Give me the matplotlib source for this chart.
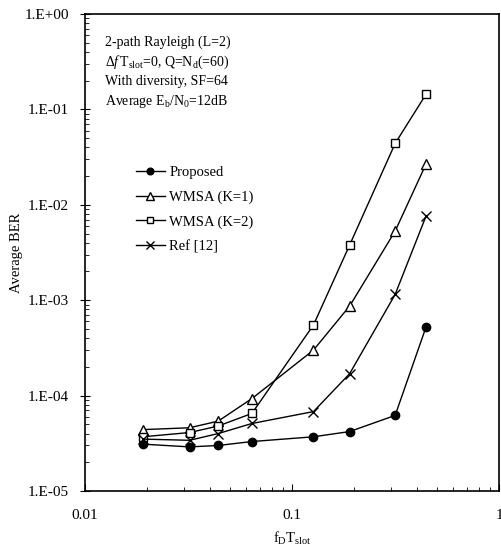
import matplotlib
matplotlib.use('Agg')
import matplotlib.pyplot as plt
from matplotlib.ticker import LogLocator, FuncFormatter, NullFormatter

plt.rcParams['font.family'] = ['Liberation Serif', 'DejaVu Serif']
plt.rcParams['mathtext.fontset'] = 'custom'
plt.rcParams['mathtext.rm'] = 'Liberation Serif'
plt.rcParams['mathtext.it'] = 'Liberation Serif:italic'

# fD*Tslot values
fd_t = [0.019, 0.032, 0.044, 0.064, 0.127, 0.19, 0.315, 0.445]

ber_proposed = [3.1e-5, 2.9e-5, 3.0e-5, 3.3e-5, 3.7e-5, 4.2e-5, 6.2e-5, 5.3e-4]
ber_wmsa_k1 = [4.4e-5, 4.6e-5, 5.4e-5, 9.3e-5, 3.0e-4, 8.7e-4, 5.3e-3, 2.7e-2]
ber_wmsa_k2 = [3.7e-5, 4.1e-5, 4.8e-5, 6.5e-5, 5.5e-4, 3.8e-3, 4.4e-2, 1.45e-1]
ber_ref12 = [3.5e-5, 3.4e-5, 4.0e-5, 5.1e-5, 6.8e-5, 1.7e-4, 1.15e-3, 7.7e-3]

labels = ['Proposed', 'WMSA (K=1)', 'WMSA (K=2)', 'Ref [12]']

fig = plt.figure(figsize=[5.02, 5.51], dpi=100)
ax = fig.add_axes([85/502, 1-491/551, 414/502, 477/551])

ax.plot(fd_t, ber_proposed, '-o', color='black', lw=1, ms=6, label=labels[0])
ax.plot(fd_t, ber_wmsa_k1, '-^', color='black', mfc='white', lw=1, ms=7, label=labels[1])
ax.plot(fd_t, ber_wmsa_k2, '-s', color='black', mfc='white', lw=1, ms=5.5, label=labels[2])
ax.plot(fd_t, ber_ref12, '-x', color='black', lw=1, ms=6.5, mew=1, label=labels[3])

ax.set_xscale('log')
ax.set_yscale('log')
ax.set_xlim(0.01, 1)
ax.set_ylim(1e-5, 1)

ax.xaxis.set_major_formatter(FuncFormatter(lambda v, p: '%g' % v))
ax.yaxis.set_major_formatter(FuncFormatter(lambda v, p: ('%.0E' % v).replace('1E', '1.E')))
ax.yaxis.set_major_locator(LogLocator(base=10, numticks=10))
ax.yaxis.set_minor_locator(LogLocator(base=10, subs=range(2, 10), numticks=10))
ax.xaxis.set_minor_formatter(NullFormatter())
ax.yaxis.set_minor_formatter(NullFormatter())
ax.tick_params(axis='x', which='major', direction='in', length=5, pad=13, labelsize=11)
ax.tick_params(axis='x', which='minor', direction='in', length=3)
ax.tick_params(axis='y', which='major', direction='inout', length=7, pad=8, labelsize=11)
ax.tick_params(axis='y', which='minor', direction='in', length=3)
for s in ax.spines.values():
    s.set_linewidth(1.2)

ax.set_xlabel(r'f$_{\rm D}$T$_{\rm slot}$', fontsize=10.5, labelpad=6)
ax.set_ylabel('Average BER', fontsize=10.5, labelpad=1)

txt = ['2-path Rayleigh (L=2)',
       r'$\mathit{\Delta f}\,$T$_{\rm slot}$=0, Q=N$_{\rm d}$(=60)',
       'With diversity, SF=64',
       r'Average E$_{\rm b}$/N$_0$=12dB']
for i, t in enumerate(txt):
    fig.text(105/502, 1-(42+20*i)/551, t, fontsize=10, va='center')

ax.legend(loc='upper left', bbox_to_anchor=(0.105, 0.697), frameon=False, fontsize=10.5,
          handlelength=2.0, handletextpad=0.3, labelspacing=0.78, borderpad=0,
          markerscale=0.8)

plt.savefig('out.png', dpi=100)
